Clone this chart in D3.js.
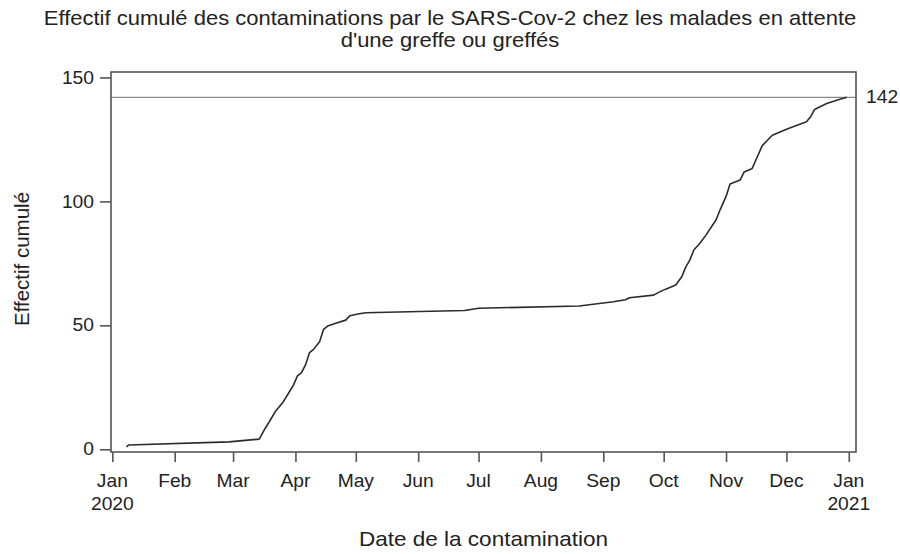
<!DOCTYPE html>
<html>
<head>
<meta charset="utf-8">
<script src="https://cdn.jsdelivr.net/npm/d3@7"></script>
<style>
  body { margin: 0; background: #fff; }
  text { font-family: "Liberation Sans", Arial, sans-serif; fill: #222; }
</style>
</head>
<body>
<div id="chart"></div>
<script>
// cumulative count of SARS-Cov-2 infections
var dates = [
  "2020-01-08", "2020-01-09", "2020-02-28", "2020-03-14", "2020-03-17", "2020-03-19",
  "2020-03-22", "2020-03-26", "2020-03-29", "2020-03-31", "2020-04-02", "2020-04-04",
  "2020-04-06", "2020-04-08", "2020-04-10", "2020-04-13", "2020-04-15", "2020-04-17",
  "2020-04-21", "2020-04-26", "2020-04-28", "2020-05-02", "2020-05-06", "2020-05-11",
  "2020-06-24", "2020-07-01", "2020-08-20", "2020-09-06", "2020-09-12", "2020-09-14",
  "2020-09-26", "2020-09-29", "2020-10-02", "2020-10-07", "2020-10-10", "2020-10-12",
  "2020-10-14", "2020-10-16", "2020-10-19", "2020-10-22", "2020-10-27", "2020-10-29",
  "2020-11-01", "2020-11-03", "2020-11-08", "2020-11-10", "2020-11-14", "2020-11-16",
  "2020-11-19", "2020-11-24", "2020-12-02", "2020-12-11", "2020-12-13", "2020-12-15",
  "2020-12-21", "2020-12-26", "2020-12-31"
];
var cumul = [
  1.0, 1.7, 3.0, 4.1, 8.5, 11.1,
  15.2, 19.2, 23.2, 25.9, 29.6, 30.9,
  34.0, 39.0, 40.3, 43.4, 48.4, 49.7,
  50.8, 52.1, 53.9, 54.6, 55.1, 55.2,
  56.0, 56.9, 57.8, 59.5, 60.3, 61.1,
  62.2, 63.5, 64.6, 66.3, 69.6, 73.6,
  76.3, 80.4, 83.1, 86.4, 92.5, 96.5,
  102.0, 107.0, 108.6, 111.9, 113.3, 117.0,
  122.5, 126.7, 129.4, 132.1, 134.1, 137.1,
  139.5, 140.8, 142.0
];
var total = 142;
var yTicks = [0, 50, 100, 150];
var monthLabels = ["Jan", "Feb", "Mar", "Apr", "May", "Jun", "Jul", "Aug", "Sep", "Oct", "Nov", "Dec", "Jan"];

var titleLines = [
  "Effectif cumulé des contaminations par le SARS-Cov-2 chez les malades en attente",
  "d'une greffe ou greffés"
];

var width = 900, height = 554;
var margin = { top: 72, right: 44, bottom: 102, left: 111 };
var stretch = 1.1; // the original picture is a bit wider than tall

var parse = d3.utcParse("%Y-%m-%d");
var data = dates.map(function (d, i) {
  return { date: parse(d), value: cumul[i] };
});

var svg = d3.select("#chart").append("svg")
  .attr("width", width)
  .attr("height", height);

// horizontal text, slightly widened
function label(g, px, py, str, size, anchor, dy) {
  return g.append("text")
    .attr("transform", "translate(" + px + "," + py + ") scale(" + stretch + ",1)")
    .attr("text-anchor", anchor || "middle")
    .attr("dy", dy || 0)
    .style("font-size", size + "px")
    .text(str);
}

// x runs a little past both ends of the year, like the original
var x = d3.scaleUtc()
  .domain([new Date(Date.UTC(2019, 11, 31, 8)), new Date(Date.UTC(2021, 0, 4, 14))])
  .range([margin.left, width - margin.right]);

var y = d3.scaleLinear()
  .domain([-1.1, 152.2])
  .range([height - margin.bottom, margin.top]);

// title
titleLines.forEach(function (t, i) {
  label(svg, 450, 25 + i * 22, t, 20);
});

// reference line at the final total
svg.append("line")
  .attr("x1", x.range()[0]).attr("x2", x.range()[1])
  .attr("y1", y(total)).attr("y2", y(total))
  .attr("stroke", "#8a8a8a")
  .attr("stroke-width", 1.2);

label(svg, x.range()[1] + 10, y(total), total, 17.5, "start", "0.35em");

// curve
var line = d3.line()
  .x(function (d) { return x(d.date); })
  .y(function (d) { return y(d.value); });

svg.append("path")
  .datum(data)
  .attr("d", line)
  .attr("fill", "none")
  .attr("stroke", "#2b2b2b")
  .attr("stroke-width", 1.6)
  .attr("stroke-linejoin", "round");

// frame
svg.append("rect")
  .attr("x", x.range()[0])
  .attr("y", y.range()[1])
  .attr("width", x.range()[1] - x.range()[0])
  .attr("height", y.range()[0] - y.range()[1])
  .attr("fill", "none")
  .attr("stroke", "#555")
  .attr("stroke-width", 1.6);

// y axis
var yAxis = svg.append("g")
  .attr("transform", "translate(" + x.range()[0] + ",0)")
  .call(d3.axisLeft(y).tickValues(yTicks).tickSize(11).tickFormat(""));
yAxis.select(".domain").remove();
yAxis.selectAll(".tick line").attr("stroke", "#555").attr("stroke-width", 1.6);
yTicks.forEach(function (v) {
  label(svg, x.range()[0] - 17, y(v), v, 17.5, "end", "0.35em");
});

// x axis, one tick at the start of each month
var monthTicks = d3.utcMonth.range(new Date(Date.UTC(2020, 0, 1)), new Date(Date.UTC(2021, 0, 2)));
var xAxis = svg.append("g")
  .attr("transform", "translate(0," + y.range()[0] + ")")
  .call(d3.axisBottom(x).tickValues(monthTicks).tickSize(10).tickFormat(""));
xAxis.select(".domain").remove();
xAxis.selectAll(".tick line").attr("stroke", "#555").attr("stroke-width", 1.6);

monthTicks.forEach(function (d, i) {
  label(svg, x(d), y.range()[0] + 35, monthLabels[i], 17.5);
  if (i === 0 || i === monthTicks.length - 1) {
    label(svg, x(d), y.range()[0] + 58, d.getUTCFullYear(), 17.5);
  }
});

// axis titles
label(svg, (x.range()[0] + x.range()[1]) / 2, 546, "Date de la contamination", 20.5);

svg.append("text")
  .attr("transform", "translate(29,259) rotate(-90)")
  .attr("text-anchor", "middle")
  .style("font-size", "20.5px")
  .text("Effectif cumulé");
</script>
</body>
</html>
